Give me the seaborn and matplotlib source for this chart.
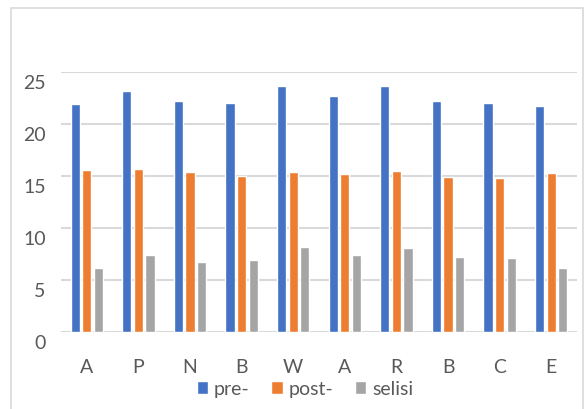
import pandas as pd
import matplotlib.pyplot as plt
import matplotlib.transforms as mtransforms
from matplotlib.patches import Rectangle
import seaborn as sns

# =====================================================
# Data
# =====================================================

categories = ["A", "P", "N", "B", "W", "A", "R", "B", "C", "E"]
series = ["pre-", "post-", "selisi"]

pre = [21.9, 23.2, 22.2, 22.0, 23.7, 22.7, 23.7, 22.2, 22.0, 21.7]
post = [15.6, 15.7, 15.4, 15.0, 15.4, 15.2, 15.5, 14.9, 14.8, 15.3]
selisi = [6.2, 7.4, 6.7, 6.9, 8.2, 7.4, 8.1, 7.2, 7.1, 6.2]

colors = ["#4472C4", "#ED7D31", "#A5A5A5"]

rows = []
for i, cat in enumerate(categories):
    rows.append({"pos": i, "serie": "pre-", "val": pre[i]})
    rows.append({"pos": i, "serie": "post-", "val": post[i]})
    rows.append({"pos": i, "serie": "selisi", "val": selisi[i]})
df = pd.DataFrame(rows)

# =====================================================
# Figure
# =====================================================

sns.set_style("white")
plt.rcParams["font.family"] = ["Lato", "DejaVu Sans"]

fig = plt.figure(figsize=(5.85, 4.1), dpi=100)
ax = fig.add_axes([61 / 585, 1 - 333 / 410, (577 - 61) / 585, (333 - 73) / 410])

sns.barplot(
    data=df,
    x="pos",
    y="val",
    hue="serie",
    hue_order=series,
    palette=colors,
    width=0.67,
    gap=0.2,
    saturation=1,
    errorbar=None,
    ax=ax,
    zorder=3,
)

ax.set_ylim(0, 25)
ax.set_yticks([0, 5, 10, 15, 20, 25])
ax.set_xticks(range(len(categories)))
ax.set_xticklabels(categories)
ax.set_xlabel("")
ax.set_ylabel("")

for s in ax.spines.values():
    s.set_visible(False)

ax.yaxis.grid(True, color="#d9d9d9", linewidth=1.5, zorder=0)
ax.set_axisbelow(True)
ax.tick_params(axis="y", length=0, pad=11, labelsize=14, labelcolor="#595959")
ax.tick_params(axis="x", length=0, pad=19, labelsize=14, labelcolor="#595959")

# y labels sit a little below their gridlines in the original
offset = mtransforms.ScaledTranslation(0, -0.09, fig.dpi_scale_trans)
for lab in ax.get_yticklabels():
    lab.set_transform(lab.get_transform() + offset)

# legend
handles, labels = ax.get_legend_handles_labels()
ax.legend_.remove()
fig.legend(
    handles,
    labels,
    loc="center",
    bbox_to_anchor=(305 / 585, 1 - 390 / 410),
    ncol=3,
    frameon=False,
    fontsize=14,
    handlelength=0.6,
    handleheight=0.6,
    handletextpad=0.3,
    columnspacing=1.1,
    labelcolor="#595959",
)

# chart area border
fig.patches.append(
    Rectangle((11 / 585, -0.05), (583 - 11) / 585, 1 - 9 / 410 + 0.05,
              transform=fig.transFigure, fill=False,
              edgecolor="#d9d9d9", linewidth=1.2)
)

fig.savefig("out.png", dpi=100)
